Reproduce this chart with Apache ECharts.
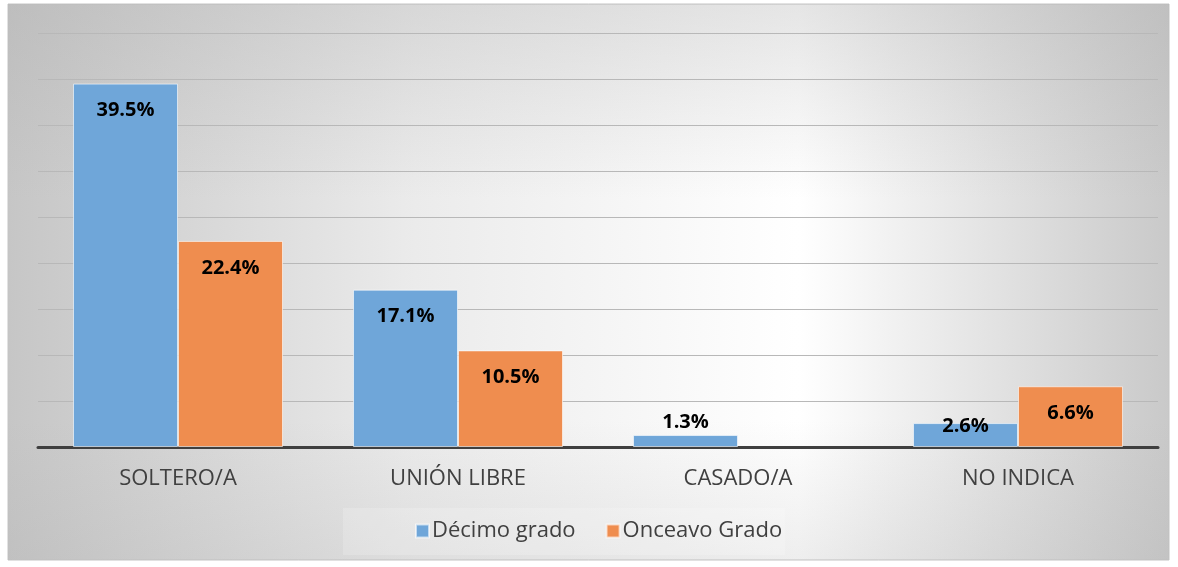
<!DOCTYPE html>
<html>
<head>
<meta charset="utf-8">
<script src="https://cdn.jsdelivr.net/npm/echarts@6/dist/echarts.min.js"></script>
<style>
  html, body { margin: 0; padding: 0; background: #fff; }
  #chart { width: 1178px; height: 567px; }
</style>
</head>
<body>
<div id="chart"></div>
<script>
var categories = ['SOLTERO/A', 'UNIÓN LIBRE', 'CASADO/A', 'NO INDICA'];
var decimo = [39.5, 17.1, 1.3, 2.6];
var onceavo = [22.4, 10.5, 0, 6.6];
var seriesNames = ['Décimo grado', 'Onceavo Grado'];

var myChart = echarts.init(document.getElementById('chart'));

// short bars get the label placed above the bar, zero bars show nothing
function toData(arr) {
    return arr.map(function (v) {
        if (v === 0) return { value: v, label: { show: false }, itemStyle: { borderWidth: 0, opacity: 0 } };
        if (v < 2) return { value: v, label: { position: 'top', distance: 3 } };
        if (v < 4) return { value: v, label: { position: 'top', distance: -13 } };
        return v;
    });
}

var labelStyle = {
    show: true,
    position: 'insideTop',
    distance: 17,
    color: '#000',
    fontSize: 20,
    fontWeight: 'bold',
    fontFamily: 'Open Sans',
    formatter: function (p) { return p.value.toFixed(1) + '%'; }
};

var option = {
    animation: false,
    graphic: [{
        type: 'rect',
        z: -10,
        silent: true,
        shape: { x: 8, y: 4, width: 1161, height: 556 },
        style: {
            fill: new echarts.graphic.LinearGradient(0, 0, 1, 0, [
                { offset: 0, color: '#c6c6c6' },
                { offset: 0.35, color: '#ebebeb' },
                { offset: 0.68, color: '#ffffff' },
                { offset: 1, color: '#c9c9c9' }
            ]),
            stroke: '#c4c4c4',
            lineWidth: 1
        }
    }, {
        type: 'rect',
        z: -9,
        silent: true,
        shape: { x: 8, y: 4, width: 1161, height: 556 },
        style: {
            fill: new echarts.graphic.LinearGradient(0, 0, 0, 1, [
                { offset: 0, color: 'rgba(170,170,170,0.3)' },
                { offset: 0.35, color: 'rgba(170,170,170,0)' },
                { offset: 0.75, color: 'rgba(170,170,170,0)' },
                { offset: 1, color: 'rgba(170,170,170,0.2)' }
            ])
        }
    }],
    grid: { left: 38, right: 20, top: 33, bottom: 120 },
    xAxis: {
        type: 'category',
        data: categories,
        axisLine: { lineStyle: { color: '#3f3f3f', width: 3 } },
        axisTick: { show: false },
        axisLabel: { color: '#404040', fontSize: 22, fontFamily: 'Open Sans', margin: 21 }
    },
    yAxis: {
        type: 'value',
        min: 0,
        max: 45,
        interval: 5,
        axisLabel: { show: false },
        axisLine: { show: false },
        axisTick: { show: false },
        splitLine: { lineStyle: { color: '#b8b8b8', width: 1 } }
    },
    legend: {
        left: 343,
        top: 508,
        itemWidth: 13,
        itemHeight: 13,
        itemGap: 30,
        padding: [12, 3, 13, 72],
        backgroundColor: 'rgba(255,255,255,0.18)',
        icon: 'rect',
        textStyle: { color: '#404040', fontSize: 22, fontFamily: 'Open Sans', padding: [0, 0, 0, -2] },
        data: seriesNames
    },
    series: [{
        name: seriesNames[0],
        type: 'bar',
        data: toData(decimo),
        barWidth: '37.5%',
        barGap: '0%',
        itemStyle: { color: '#6fa6d9', borderColor: 'rgba(255,255,255,0.6)', borderWidth: 1 },
        label: labelStyle
    }, {
        name: seriesNames[1],
        type: 'bar',
        data: toData(onceavo),
        barWidth: '37.5%',
        itemStyle: { color: '#ef8d4f', borderColor: 'rgba(255,255,255,0.6)', borderWidth: 1 },
        label: labelStyle
    }]
};

option && myChart.setOption(option);
</script>
</body>
</html>
